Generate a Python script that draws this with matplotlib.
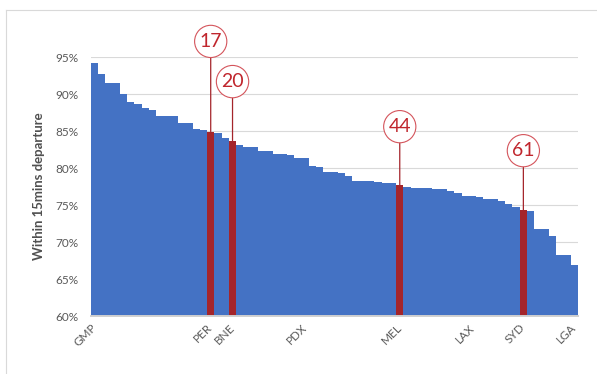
"""
On-time departure ranking (share of departures within 15 mins), with a few
airports called out by rank.
"""

import matplotlib.pyplot as plt
from matplotlib.lines import Line2D
from matplotlib.ticker import FuncFormatter

# per-airport share within 15 mins, sorted best to worst (67 airports)
on_time_pct = [
    94.19, 92.70, 91.48, 91.48, 90.07, 88.91, 88.68, 88.09, 87.87, 87.06,
    87.06, 87.06, 86.15, 86.15, 85.30, 85.16, 84.93, 84.71, 84.12, 83.72,
    83.13, 82.91, 82.91, 82.37, 82.37, 81.92, 81.92, 81.74, 81.33, 81.33,
    80.33, 80.11, 79.52, 79.52, 79.30, 78.94, 78.31, 78.31, 78.31, 78.08,
    77.95, 77.95, 77.72, 77.50, 77.36, 77.36, 77.36, 77.14, 77.14, 76.87,
    76.68, 76.23, 76.23, 76.10, 75.78, 75.78, 75.56, 75.15, 74.79, 74.34,
    74.20, 71.77, 71.77, 70.82, 68.25, 68.25, 66.85,
]

# only some airports get a label on the axis
label_pos = [0, 16, 19, 29, 42, 52, 59, 66]
label_names = ["GMP", "PER", "BNE", "PDX", "MEL", "LAX", "SYD", "LGA"]

# highlighted airports and the rank shown in the bubble
highlight_pos = [16, 19, 42, 59]
highlight_rank = ["17", "20", "44", "61"]

y_ticks = [60, 65, 70, 75, 80, 85, 90, 95]

BLUE = "#4472C4"
RED = "#A4252B"
TEXT_RED = "#C0262D"
GRAY = "#595959"

plt.rcParams["font.family"] = ["Lato", "DejaVu Sans"]

fig = plt.figure(figsize=(5.97, 3.74), dpi=100)
ax = fig.add_axes([0.152, 0.155, 0.816, 0.692])

colors = [RED if i in highlight_pos else BLUE for i in range(len(on_time_pct))]
ax.bar(range(len(on_time_pct)), on_time_pct, width=1.0, color=colors, linewidth=0, zorder=2)

ax.set_xlim(-0.5, len(on_time_pct) - 0.5)
ax.set_ylim(60, 95)
ax.set_yticks(y_ticks)
ax.yaxis.set_major_formatter(FuncFormatter(lambda v, _: f"{v:.0f}%"))
ax.grid(axis="y", color="#D9D9D9", linewidth=0.8, zorder=0)
ax.set_axisbelow(True)

for side in ["top", "right", "left"]:
    ax.spines[side].set_visible(False)
ax.spines["bottom"].set_color("#D0D0D0")
ax.spines["bottom"].set_linewidth(1.4)
ax.spines["bottom"].set_zorder(3)

ax.set_xticks(label_pos)
ax.set_xticklabels(label_names, rotation=45, ha="right", va="center", rotation_mode="anchor")
ax.tick_params(axis="x", length=0, pad=7, labelsize=8.5, labelcolor=GRAY)
ax.tick_params(axis="y", length=0, pad=9, labelsize=8.5, labelcolor=GRAY)

ax.set_ylabel("Within 15mins departure", fontsize=9.5, fontweight="bold", color="#505050")
ax.yaxis.set_label_coords(-0.094, 0.5)

# rank bubbles; the first one sits higher so it clears its neighbour
bubble_rise = [65, 42.5, 42, 42.7]
for pos, rank, rise in zip(highlight_pos, highlight_rank, bubble_rise):
    ax.annotate(
        rank,
        xy=(pos, on_time_pct[pos]),
        xytext=(0, rise),
        textcoords="offset points",
        ha="center",
        va="center",
        fontsize=14,
        color=TEXT_RED,
        annotation_clip=False,
        bbox=dict(boxstyle="circle,pad=0.25", fc="white", ec="#D4545B", lw=0.8),
        arrowprops=dict(arrowstyle="-", color=RED, lw=0.9, shrinkA=0, shrinkB=0),
        zorder=4,
    )

# light chart-area frame (top and left edges visible)
fig.add_artist(Line2D([6 / 597, 1.0], [1 - 10 / 374, 1 - 10 / 374], color="#D9D9D9", lw=0.8))
fig.add_artist(Line2D([6 / 597, 6 / 597], [0.0, 1 - 10 / 374], color="#D9D9D9", lw=0.8))

fig.savefig("out.png", dpi=100)
